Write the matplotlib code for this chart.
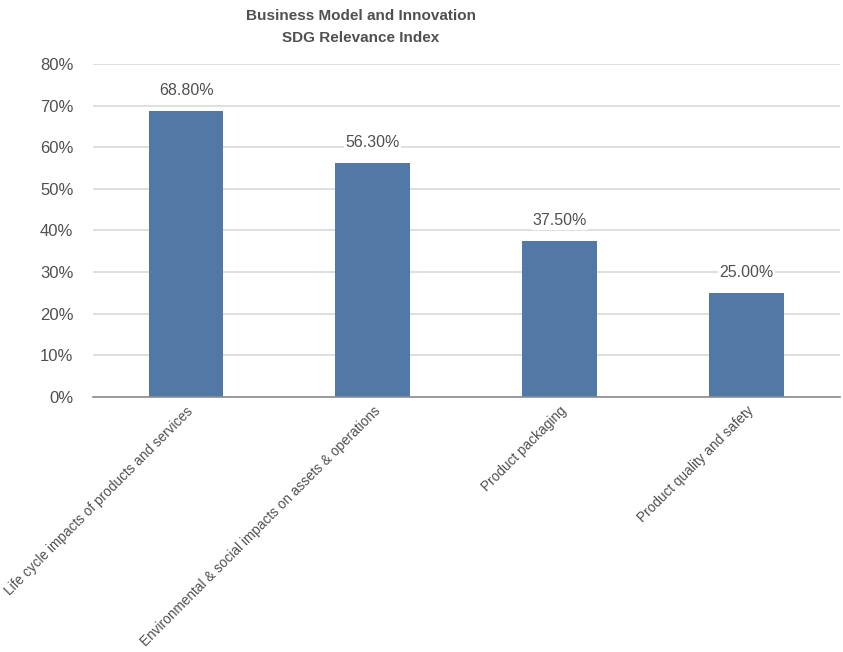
import matplotlib.pyplot as plt
from matplotlib import font_manager
from matplotlib.ticker import FuncFormatter

names = {f.name for f in font_manager.fontManager.ttflist}
family = 'Liberation Sans Narrow' if 'Liberation Sans Narrow' in names else 'Liberation Sans'
plt.rcParams['font.family'] = [family, 'DejaVu Sans']

categories = ['Life cycle impacts of products and services',
              'Environmental & social impacts on assets & operations',
              'Product packaging',
              'Product quality and safety']
values = [68.8, 56.3, 37.5, 25.0]
yticks = [0, 10, 20, 30, 40, 50, 60, 70, 80]

text_color = '#505050'

fig = plt.figure(figsize=(8.43, 6.52), dpi=100)
ax = fig.add_axes([0.110, 0.391, 0.886, 0.511])

x = range(len(categories))
bars = ax.bar(x, values, width=0.4, color='#5279a5', zorder=3)

for b, v in zip(bars, values):
    ax.annotate(f'{v:.2f}%', (b.get_x() + b.get_width() / 2, v),
                xytext=(0, 14.5), textcoords='offset points',
                ha='center', va='center', fontsize=11.5, color=text_color,
                bbox=dict(facecolor='white', edgecolor='none', pad=1), zorder=4)

ax.set_xlim(-0.5, len(categories) - 0.5)
ax.set_ylim(0, 80)
ax.set_yticks(yticks)
ax.yaxis.set_major_formatter(FuncFormatter(lambda v, p: f'{v:.0f}%'))
ax.yaxis.grid(True, color='#d9d9d9', linewidth=1.2, zorder=0)
ax.tick_params(axis='y', length=0, pad=14, labelsize=12, labelcolor=text_color)
ax.tick_params(axis='x', length=0, pad=5, labelsize=9.8, labelcolor=text_color)

ax.set_xticks(list(x))
ax.set_xticklabels(categories, rotation=45, ha='right', rotation_mode='anchor')

for s in ['top', 'right', 'left']:
    ax.spines[s].set_visible(False)
ax.spines['bottom'].set_color('#8c8c8c')
ax.spines['bottom'].set_linewidth(1.2)
ax.spines['bottom'].set_zorder(5)

fig.text(0.428, 0.986, 'Business Model and Innovation\nSDG Relevance Index',
         ha='center', va='top', fontsize=11, fontweight='bold', color=text_color,
         linespacing=1.75)

fig.savefig('out.png', dpi=100)
